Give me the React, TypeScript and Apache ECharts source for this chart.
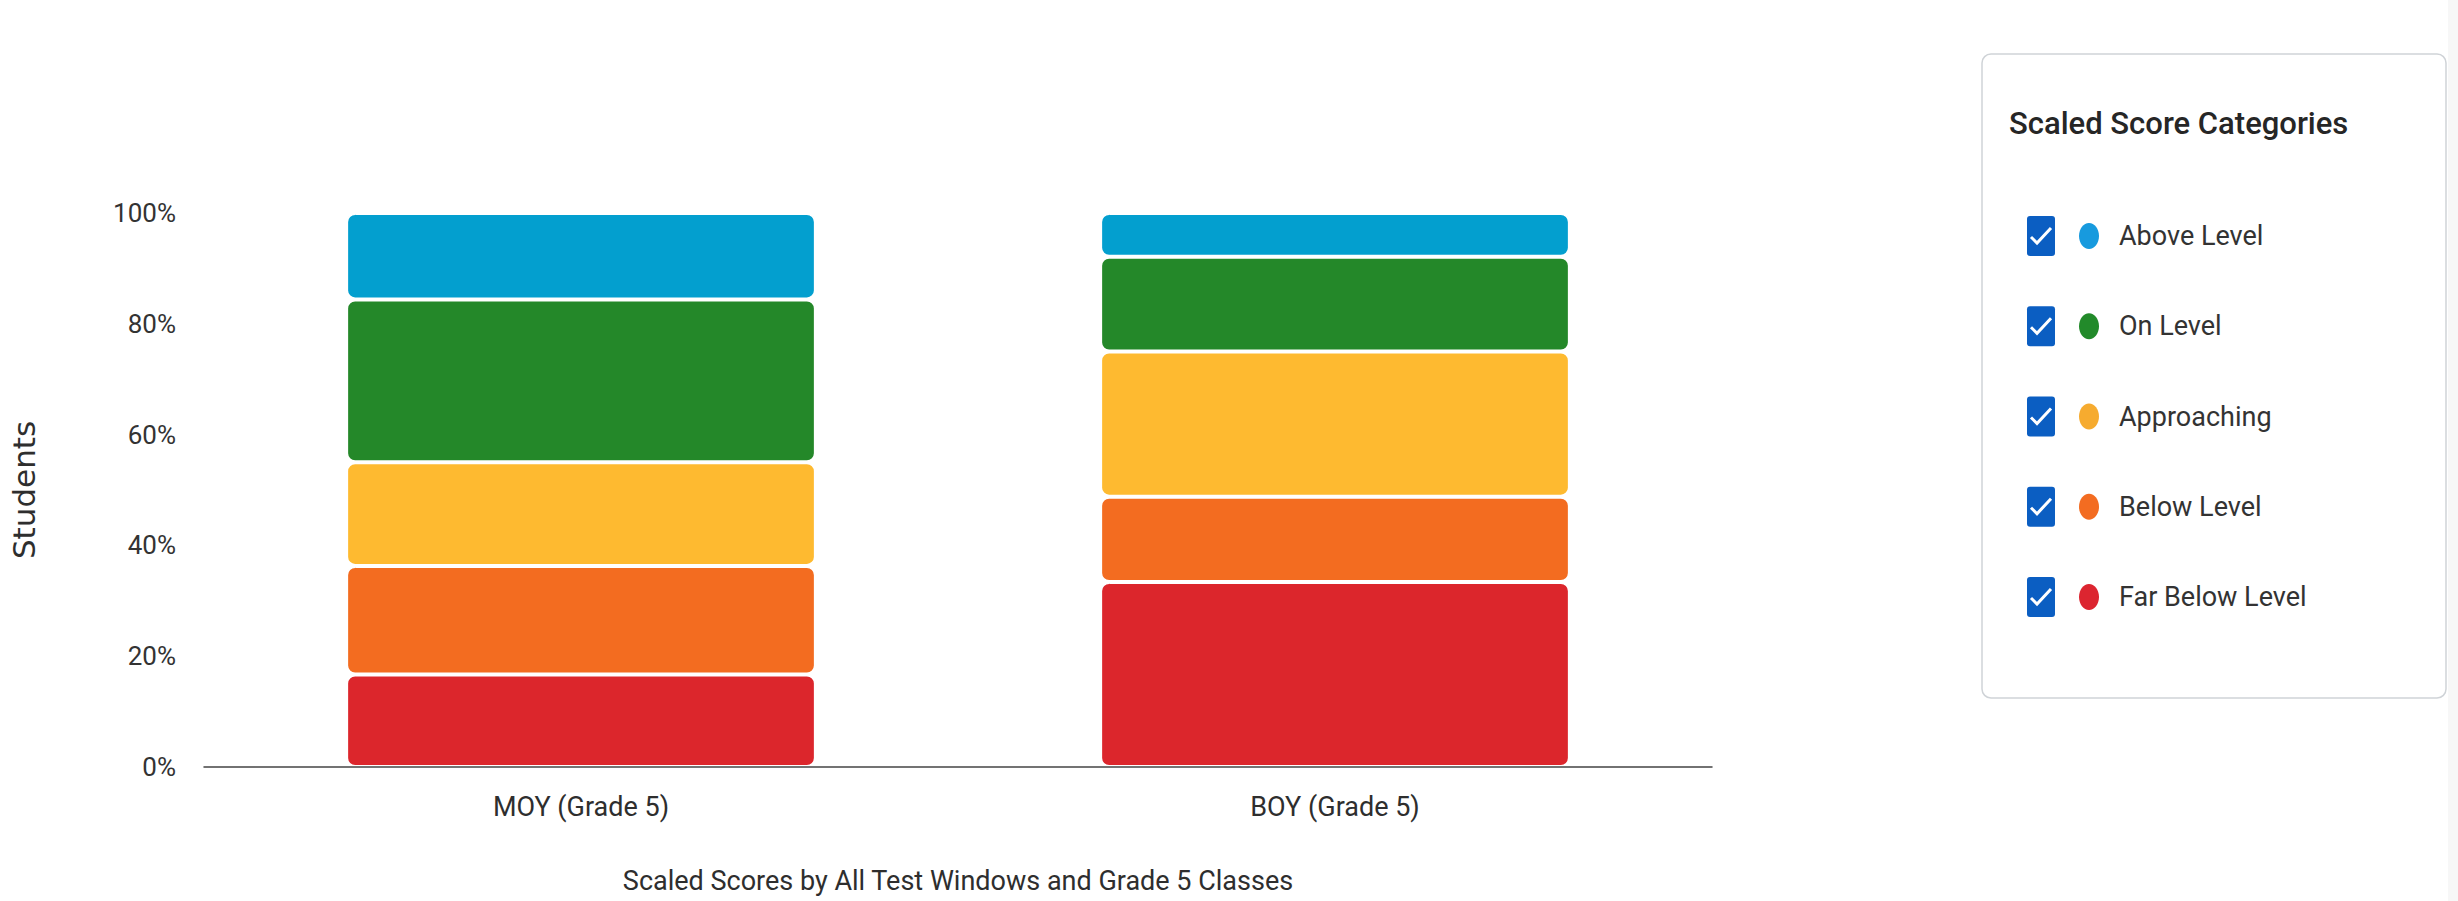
import React, { useEffect, useRef } from "react";
import * as echarts from "echarts";

// ---- data ----
const categories = ["MOY (Grade 5)", "BOY (Grade 5)"];
const farBelowLevel = [16.7, 33.4];
const belowLevel = [19.6, 15.4];
const approaching = [18.7, 26.2];
const onLevel = [29.4, 17.1];
const aboveLevel = [15.6, 7.9];
const yTicks = [0, 20, 40, 60, 80, 100];

const seriesNames = ["Far Below Level", "Below Level", "Approaching", "On Level", "Above Level"];
const seriesValues = [farBelowLevel, belowLevel, approaching, onLevel, aboveLevel];
const barColors = ["#dc262c", "#f36c20", "#feba30", "#248829", "#039fcf"];
const dotColors = ["#dc2530", "#f36c21", "#f6ab2f", "#228a2a", "#179ade"];

const legendTitle = "Scaled Score Categories";
const xAxisTitle = "Scaled Scores by All Test Windows and Grade 5 Classes";
const yAxisTitle = "Students";

const FONT = "Roboto, 'Liberation Sans', sans-serif";

export default function App() {
  const ref = useRef<HTMLDivElement>(null);

  useEffect(() => {
    if (!ref.current) return;
    const chart = echarts.init(ref.current, null, { renderer: "svg" });

    // legend (top to bottom: Above Level ... Far Below Level)
    const legendOrder = [4, 3, 2, 1, 0];
    const rowTop = 236;
    const rowStep = 90.25;
    const legendChildren: any[] = [
      {
        type: "rect",
        shape: { x: 1982, y: 54, width: 464, height: 644, r: 9 },
        style: { fill: "#ffffff", stroke: "#cfd3d7", lineWidth: 1.5 },
      },
      {
        type: "text",
        x: 2009,
        y: 123,
        style: {
          text: legendTitle,
          font: `500 31px ${FONT}`,
          fill: "#262626",
          verticalAlign: "middle",
          align: "left",
        },
      },
    ];
    legendOrder.forEach((si, i) => {
      const cy = rowTop + i * rowStep;
      legendChildren.push(
        {
          type: "rect",
          shape: { x: 2027, y: cy - 20, width: 28, height: 40, r: 3 },
          style: { fill: "#0b5ec2" },
        },
        {
          type: "polyline",
          shape: {
            points: [
              [2031, cy + 1],
              [2037, cy + 7],
              [2051, cy - 8],
            ],
          },
          style: { stroke: "#ffffff", lineWidth: 3, fill: null },
        },
        {
          type: "ellipse",
          shape: { cx: 2089, cy, rx: 10, ry: 13 },
          style: { fill: dotColors[si] },
        },
        {
          type: "text",
          x: 2119,
          y: cy,
          style: {
            text: seriesNames[si],
            font: `27px ${FONT}`,
            fill: "#333333",
            verticalAlign: "middle",
            align: "left",
          },
        }
      );
    });

    chart.setOption({
      animation: false,
      backgroundColor: "#ffffff",
      grid: { left: 204, right: 746, top: 213, bottom: 134, containLabel: false },
      xAxis: {
        type: "category",
        data: categories,
        z: 10,
        axisLine: { show: true, lineStyle: { color: "#444444", width: 1.5 } },
        axisTick: { show: false },
        axisLabel: {
          margin: 26,
          fontSize: 27,
          fontFamily: FONT,
          color: "#2e2e2e",
        },
        name: xAxisTitle,
        nameLocation: "middle",
        nameGap: 100,
        nameTextStyle: { fontSize: 27, fontFamily: FONT, color: "#2e2e2e" },
      },
      yAxis: {
        type: "value",
        min: yTicks[0],
        max: yTicks[yTicks.length - 1],
        interval: yTicks[1] - yTicks[0],
        axisLine: { show: false },
        axisTick: { show: false },
        splitLine: { show: false },
        axisLabel: {
          margin: 28,
          fontSize: 26,
          fontFamily: FONT,
          color: "#333333",
          formatter: "{value}%",
        },
        name: yAxisTitle,
        nameLocation: "middle",
        nameRotate: 90,
        nameGap: 165,
        nameTextStyle: { fontSize: 31, fontFamily: "'DejaVu Sans', sans-serif", color: "#2e2e2e" },
      },
      series: seriesNames.map((name, i) => ({
        name,
        type: "bar",
        stack: "total",
        data: seriesValues[i],
        barWidth: "62.3%",
        itemStyle: {
          color: barColors[i],
          borderRadius: 8,
          borderColor: "#ffffff",
          borderWidth: 2,
        },
      })),
      graphic: [
        {
          type: "rect",
          shape: { x: 2448, y: 0, width: 10, height: 901 },
          style: { fill: "#f7f7f7" },
          silent: true,
        },
        { type: "group", children: legendChildren },
      ],
    });

    return () => chart.dispose();
  }, []);

  return (
    <div
      ref={ref}
      style={{ position: "absolute", left: 0, top: 0, width: 2458, height: 901 }}
    />
  );
}
